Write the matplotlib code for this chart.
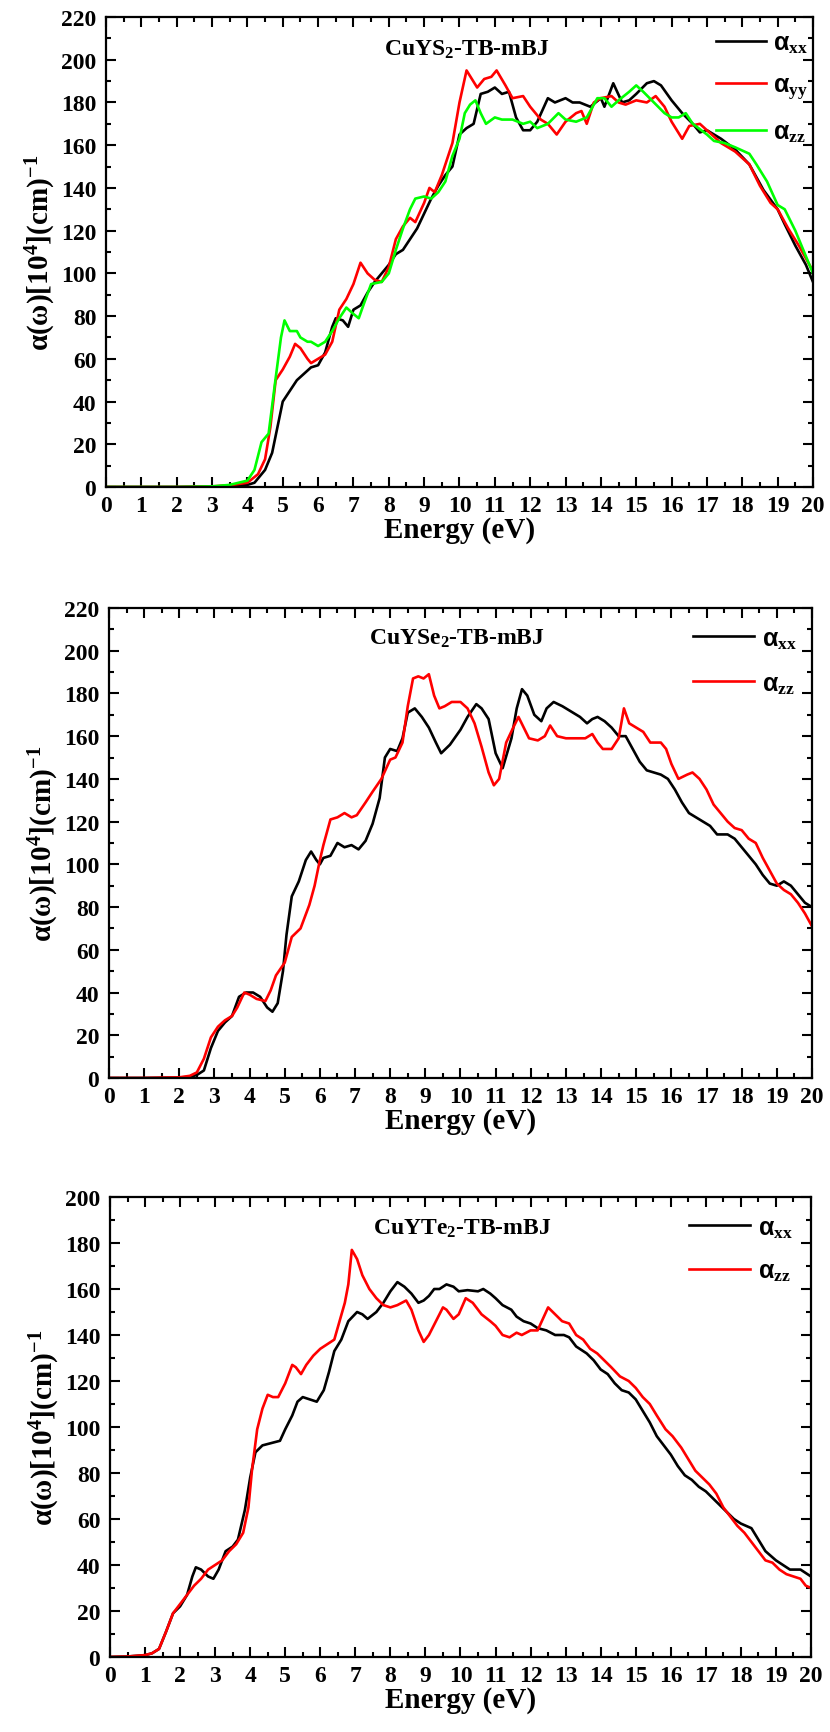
import matplotlib
matplotlib.use('Agg')
import matplotlib.pyplot as plt
from matplotlib.ticker import MultipleLocator

plt.rcParams['font.family'] = ['Liberation Serif', 'DejaVu Serif']
plt.rcParams['font.weight'] = 'bold'
plt.rcParams['mathtext.fontset'] = 'custom'
plt.rcParams['mathtext.rm'] = 'Liberation Serif:bold'
plt.rcParams['mathtext.bf'] = 'Liberation Serif:bold'
plt.rcParams['mathtext.it'] = 'Liberation Serif:italic:bold'
plt.rcParams['mathtext.sf'] = 'Liberation Sans'

# (energy eV, alpha 10^4 cm^-1)
cus2_xx = [(0,0),(1,0),(2,0),(3,0.2),(3.5,0.5),(4.0,1),(4.2,2),(4.5,8),(4.7,16),(4.85,28),(5.0,40),(5.2,45),(5.4,50),(5.6,53),(5.8,56),(6.0,57),(6.2,63),(6.4,75),(6.5,79),(6.7,78),(6.85,75),(7.0,83),(7.2,85),(7.4,91),(7.6,96),(7.8,100),(8.0,104),(8.2,109),(8.4,111),(8.6,116),(8.8,121),(9.0,128),(9.2,135),(9.4,141),(9.6,146),(9.8,150),(10.0,165),(10.2,168),(10.4,170),(10.6,184),(10.8,185),(11.0,187),(11.2,184),(11.4,185),(11.6,173),(11.8,167),(12.0,167),(12.2,171),(12.5,182),(12.7,180),(13.0,182),(13.2,180),(13.4,180),(13.7,178),(14.0,182),(14.1,178),(14.35,189),(14.6,180),(14.8,181),(15.0,184),(15.3,189),(15.5,190),(15.7,188),(16.0,181),(16.3,175),(16.6,170),(16.8,166),(17.0,167),(17.4,163),(17.8,158),(18.2,151),(18.6,139),(19.0,130),(19.2,123),(19.5,113),(19.8,104),(20,96)]
cus2_yy = [(0,0),(1,0),(2,0),(3,0.3),(3.5,0.8),(4.0,2),(4.3,6),(4.5,13),(4.65,28),(4.8,50),(5.0,55),(5.2,61),(5.35,67),(5.5,65),(5.7,60),(5.8,58),(6.0,60),(6.2,62),(6.4,68),(6.6,83),(6.8,88),(7.0,95),(7.2,105),(7.4,100),(7.6,97),(7.8,96),(8.0,103),(8.2,116),(8.4,122),(8.6,126),(8.75,124),(9.0,133),(9.15,140),(9.3,138),(9.5,146),(9.8,161),(10.0,180),(10.2,195),(10.5,187),(10.7,191),(10.9,192),(11.05,195),(11.3,188),(11.5,182),(11.8,183),(12.0,178),(12.3,172),(12.5,170),(12.75,165),(13.0,171),(13.3,175),(13.45,176),(13.6,170),(13.8,180),(14.0,182),(14.3,183),(14.5,180),(14.7,179),(15.0,181),(15.3,180),(15.55,183),(15.8,178),(16.0,171),(16.3,163),(16.5,169),(16.8,170),(17.0,167),(17.4,161),(17.8,157),(18.2,151),(18.5,141),(18.8,133),(19.0,130),(19.3,121),(19.6,113),(20,101)]
cus2_zz = [(0,0),(1,0),(2,0),(3,0.3),(3.5,1),(4.0,3),(4.2,8),(4.4,21),(4.6,25),(4.8,51),(4.95,70),(5.05,78),(5.2,73),(5.4,73),(5.5,70),(5.7,68),(5.8,68),(6.0,66),(6.2,68),(6.4,73),(6.6,79),(6.8,84),(7.0,81),(7.15,79),(7.3,86),(7.5,95),(7.8,96),(8.0,100),(8.2,111),(8.4,121),(8.6,130),(8.75,135),(9.0,136),(9.2,135),(9.4,138),(9.6,143),(9.8,155),(10.0,163),(10.15,175),(10.3,179),(10.45,181),(10.6,175),(10.75,170),(11.0,173),(11.2,172),(11.5,172),(11.8,170),(12.0,171),(12.2,168),(12.5,170),(12.8,175),(13.0,172),(13.3,171),(13.6,173),(13.9,182),(14.1,182),(14.3,178),(14.5,181),(14.8,185),(15.0,188),(15.2,185),(15.5,180),(15.8,175),(16.0,173),(16.2,173),(16.4,175),(16.6,170),(17.0,165),(17.2,162),(17.5,161),(17.8,159),(18.2,156),(18.4,151),(18.7,143),(19.0,132),(19.2,130),(19.5,120),(20,100)]

cuyse2_xx = [(0,0),(1,0),(2,0.2),(2.3,0.5),(2.5,1.4),(2.7,3.5),(2.9,14),(3.1,22),(3.3,26),(3.5,29),(3.7,38),(3.9,40),(4.1,40),(4.3,38),(4.5,33),(4.65,31),(4.8,35),(4.95,50),(5.05,67),(5.2,85),(5.4,92),(5.6,102),(5.75,106),(5.9,102),(6.0,100),(6.1,103),(6.3,104),(6.5,110),(6.7,108),(6.9,109),(7.1,107),(7.3,111),(7.5,119),(7.7,131),(7.85,150),(8.0,154),(8.2,153),(8.35,159),(8.5,171),(8.7,173),(8.9,169),(9.1,164),(9.3,157),(9.45,152),(9.7,156),(10.0,163),(10.2,169),(10.45,175),(10.6,173),(10.8,168),(11.0,152),(11.2,145),(11.45,159),(11.6,173),(11.75,182),(11.9,179),(12.1,170),(12.3,167),(12.45,173),(12.65,176),(12.9,174),(13.1,172),(13.4,169),(13.6,166),(13.75,168),(13.9,169),(14.1,167),(14.3,164),(14.5,160),(14.7,160),(14.9,154),(15.1,148),(15.3,144),(15.5,143),(15.7,142),(15.9,140),(16.1,135),(16.3,129),(16.5,124),(16.7,122),(16.9,120),(17.1,118),(17.3,114),(17.6,114),(17.8,112),(18.0,108),(18.2,104),(18.4,100),(18.6,95),(18.8,91),(19.0,90),(19.2,92),(19.4,90),(19.6,86),(19.8,82),(20,80)]
cuyse2_zz = [(0,0),(1,0),(2,0.3),(2.3,1),(2.5,2.6),(2.7,9),(2.9,19),(3.1,24),(3.3,27),(3.5,29),(3.65,33),(3.85,40),(4.0,39),(4.2,37),(4.45,36),(4.6,41),(4.75,48),(5.0,54),(5.2,66),(5.45,70),(5.7,81),(5.85,90),(6.0,102),(6.1,109),(6.3,121),(6.5,122),(6.7,124),(6.9,122),(7.05,123),(7.3,129),(7.5,134),(7.75,140),(8.0,149),(8.15,150),(8.35,157),(8.5,174),(8.65,187),(8.8,188),(8.95,187),(9.1,189),(9.25,179),(9.4,173),(9.55,174),(9.75,176),(10.0,176),(10.2,173),(10.4,166),(10.6,155),(10.8,143),(10.95,137),(11.1,140),(11.3,157),(11.5,164),(11.65,169),(11.8,164),(11.95,159),(12.2,158),(12.4,160),(12.55,165),(12.75,160),(13.0,159),(13.3,159),(13.55,159),(13.75,161),(13.9,157),(14.05,154),(14.3,154),(14.5,159),(14.65,173),(14.8,166),(15.0,164),(15.2,162),(15.4,157),(15.7,157),(15.85,154),(16.0,147),(16.2,140),(16.45,142),(16.6,143),(16.8,140),(17.0,135),(17.2,128),(17.4,124),(17.6,120),(17.8,117),(18.0,116),(18.2,112),(18.4,110),(18.6,103),(18.8,97),(19.0,91),(19.2,88),(19.4,86),(19.6,82),(19.8,77),(20,71)]

cuyte2_xx = [(0,0),(0.5,0.2),(1.0,0.8),(1.2,1.6),(1.4,3.5),(1.6,11),(1.8,19),(2.0,22),(2.2,27),(2.35,35),(2.45,39),(2.6,38),(2.8,35),(2.95,34),(3.1,38),(3.3,46),(3.5,48),(3.65,51),(3.85,64),(4.0,78),(4.15,89),(4.35,92),(4.6,93),(4.85,94),(5.0,99),(5.2,105),(5.35,111),(5.5,113),(5.7,112),(5.9,111),(6.1,116),(6.25,124),(6.4,133),(6.6,138),(6.8,146),(7.05,150),(7.2,149),(7.35,147),(7.6,150),(7.8,154),(8.0,159),(8.2,163),(8.4,161),(8.6,158),(8.8,154),(8.95,155),(9.1,157),(9.25,160),(9.4,160),(9.6,162),(9.8,161),(9.95,159),(10.2,159.5),(10.5,159),(10.65,160),(10.85,158),(11.0,156),(11.2,153),(11.45,151),(11.6,148),(11.8,146),(12.0,145),(12.2,143),(12.45,142),(12.7,140),(12.95,140),(13.1,139),(13.3,135),(13.6,132),(13.8,129),(14.0,125),(14.2,123),(14.4,119),(14.6,116),(14.8,115),(15.0,112),(15.2,107),(15.4,102),(15.6,96),(15.8,92),(16.0,88),(16.2,83),(16.4,79),(16.6,77),(16.8,74),(17.0,72),(17.2,69),(17.4,66),(17.6,63),(17.8,60),(18.0,58),(18.3,56),(18.5,51),(18.7,46),(19.0,42),(19.2,40),(19.4,38),(19.7,38),(20,35)]
cuyte2_zz = [(0,0),(0.5,0.2),(1.0,0.8),(1.2,1.6),(1.4,3.5),(1.6,11),(1.8,19),(2.0,23),(2.2,27),(2.4,31),(2.6,34),(2.8,38),(3.0,40),(3.2,42),(3.4,46),(3.6,49),(3.8,54),(3.95,65),(4.05,81),(4.2,99),(4.35,108),(4.5,114),(4.65,113),(4.8,113),(5.0,119),(5.2,127),(5.3,126),(5.45,123),(5.6,127),(5.8,131),(6.0,134),(6.2,136),(6.4,138),(6.55,146),(6.7,154),(6.8,162),(6.9,177),(7.05,173),(7.2,166),(7.4,160),(7.6,156),(7.8,153),(8.0,152),(8.2,153),(8.45,155),(8.6,151),(8.8,142),(8.95,137),(9.1,140),(9.3,146),(9.5,152),(9.6,151),(9.8,147),(9.95,149),(10.15,156),(10.35,154),(10.6,149),(10.85,146),(11.0,144),(11.2,140),(11.4,139),(11.6,141),(11.75,140),(12.0,142),(12.2,142),(12.35,147),(12.5,152),(12.7,149),(12.9,146),(13.1,145),(13.3,140),(13.5,138),(13.7,134),(13.9,132),(14.1,129),(14.3,126),(14.55,122),(14.8,120),(15.0,117),(15.2,113),(15.4,110),(15.6,105),(15.85,99),(16.05,96),(16.3,91),(16.5,86),(16.7,81),(16.9,78),(17.1,75),(17.3,71),(17.5,65),(17.7,61),(17.9,57),(18.1,54),(18.3,50),(18.5,46),(18.7,42),(18.9,41),(19.1,38),(19.3,36),(19.5,35),(19.7,34),(19.85,31),(20,30)]

titles = ['CuYS$_\\mathbf{2}$-TB-mBJ', 'CuYSe$_\\mathbf{2}$-TB-mBJ', 'CuYTe$_\\mathbf{2}$-TB-mBJ']
ymax = [220, 220, 200]
lab = {'xx': r'$\mathsf{\alpha}_{\mathrm{xx}}$', 'yy': r'$\mathsf{\alpha}_{\mathrm{yy}}$', 'zz': r'$\mathsf{\alpha}_{\mathrm{zz}}$'}
panels = [
    [('xx', cus2_xx, 'black'), ('yy', cus2_yy, 'red'), ('zz', cus2_zz, '#00ff00')],
    [('xx', cuyse2_xx, 'black'), ('zz', cuyse2_zz, 'red')],
    [('xx', cuyte2_xx, 'black'), ('zz', cuyte2_zz, 'red')],
]
# axes boxes in figure fraction
boxes = [[0.1277, 0.7184, 0.8518, 0.2712],
         [0.1313, 0.3774, 0.8470, 0.2712],
         [0.1325, 0.0433, 0.8446, 0.2654]]
title_pos = [(0.51, 0.932), (0.495, 0.936), (0.502, 0.933)]
leg_pos = [(0.852, 0.985), (0.82, 0.975), (0.815, 0.975)]
leg_len = [2.0, 2.45, 2.45]
leg_sp = [0.75, 0.85, 0.8]

fig = plt.figure(figsize=(8.3, 17.33), dpi=100)
for i in range(3):
    ax = fig.add_axes(boxes[i])
    for key, pts, cc in panels[i]:
        e, a = zip(*pts)
        ax.plot(e, a, color=cc, lw=1.9, label=lab[key])
    ax.set_xlim(0, 20)
    ax.set_ylim(0, ymax[i])
    ax.xaxis.set_major_locator(MultipleLocator(1))
    ax.xaxis.set_minor_locator(MultipleLocator(0.5))
    ax.yaxis.set_major_locator(MultipleLocator(20))
    ax.yaxis.set_minor_locator(MultipleLocator(10))
    ax.tick_params(which='both', direction='in', top=True, right=True, width=1.5)
    ax.tick_params(which='major', length=7, labelsize=17)
    ax.tick_params(which='minor', length=3.5)
    ax.tick_params(axis='x', pad=6)
    ax.tick_params(axis='y', pad=7)
    for s in ax.spines.values():
        s.set_linewidth(1.6)
    ax.set_xlabel('Energy (eV)', fontsize=21, fontweight='bold', labelpad=0)
    ax.set_ylabel('α(ω)[10$^\\mathbf{4}$](cm)$^\\mathbf{-1}$', fontsize=21, fontweight='bold', labelpad=2)
    ax.text(title_pos[i][0], title_pos[i][1], titles[i], transform=ax.transAxes,
            ha='center', va='center', fontsize=17, fontweight='bold')
    ax.legend(loc='upper left', bbox_to_anchor=leg_pos[i], frameon=False, fontsize=18,
              handlelength=leg_len[i], handletextpad=0.3, labelspacing=leg_sp[i],
              borderpad=0, borderaxespad=0.3)

fig.savefig('out.png', dpi=100)
